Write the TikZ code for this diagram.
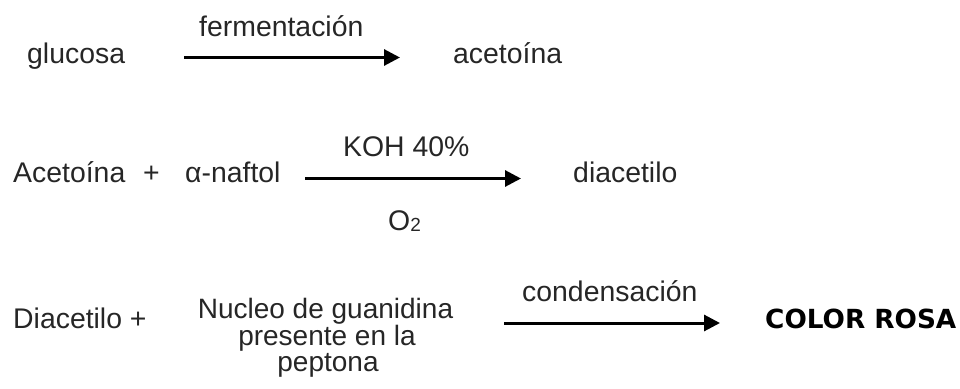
\documentclass[tikz,border=0pt]{standalone}
\usepackage{fontspec}
\setmainfont{Liberation Sans}
\newfontfamily\boldfam{DejaVu Sans}
\usetikzlibrary{arrows.meta}
\begin{document}
\begin{tikzpicture}[x=1pt,y=-1pt,
  lbl/.style={inner sep=0pt,anchor=base west,text=black!85,font=\fontsize{28.4}{28.4}\selectfont},
  cline/.style={lbl,anchor=base,text height=15pt,text depth=3pt},
  rxn/.style={line width=3pt,-{Triangle[length=16pt,width=16pt]}}]
\useasboundingbox (0,0) rectangle (960,388);
% row 1
\node[lbl] (glu) at (27,63) {glucosa};
\node[lbl] (ferm) at (199,36) {fermentación};
\node[lbl] (acet) at (453,63) {acetoína};
\coordinate (a1s) at (184,57.5);
\coordinate (a1e) at (400,57.5);
\draw[rxn] (a1s) -- (a1e);
% row 2
\node[lbl] (Acet) at (13,182.7) {Acetoína};
\node[lbl] (plus) at (143,182.7) {+};
\node[lbl] (naf) at (185,182.7) {α-naftol};
\node[lbl] (koh) at (343,156.7) {KOH 40\%};
\node[lbl] (o2) at (388,230) {O\raisebox{-1pt}{\fontsize{19}{19}\selectfont 2}};
\node[lbl] (diac) at (573,182.7) {diacetilo};
\coordinate (a2s) at (305,178.5);
\coordinate (a2e) at (521,178.5);
\draw[rxn] (a2s) -- (a2e);
% row 3
\node[lbl] (Diac) at (13,328) {Diacetilo +};
\node[cline,font=\fontsize{28}{28}\selectfont] (nuc1) at (325.5,318.8) {Nucleo de guanidina};
\node[cline,font=\fontsize{28}{28}\selectfont] (nuc2) at (327,345.6) {presente en la};
\node[cline,font=\fontsize{28}{28}\selectfont] (nuc3) at (328,371.5) {peptona};
\node[lbl] (cond) at (522,301) {condensación};
\node[lbl,text=black,font=\boldfam\bfseries\fontsize{26.3}{26.3}\selectfont] (rosa) at (765,328) {COLOR ROSA};
\coordinate (a3s) at (504,323);
\coordinate (a3e) at (720,323);
\draw[rxn] (a3s) -- (a3e);
\end{tikzpicture}
\end{document}
